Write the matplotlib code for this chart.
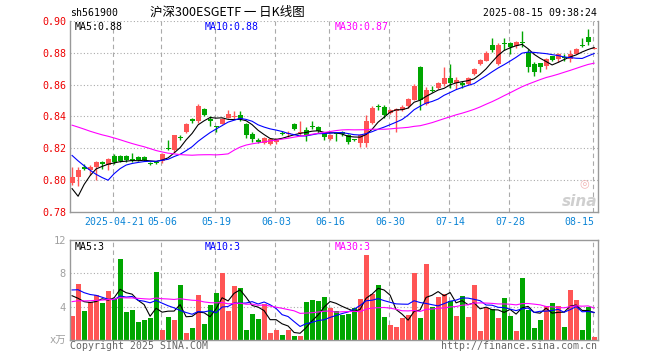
import numpy as np
import pandas as pd
import matplotlib
matplotlib.use("Agg")
import matplotlib.pyplot as plt

# ---------------- data ----------------
holidays = ["2025-05-01", "2025-05-02", "2025-05-05", "2025-06-02"]
dates = [d for d in pd.bdate_range("2025-04-10", "2025-08-15")
         if d.strftime("%Y-%m-%d") not in holidays]

opens = [0.798, 0.802, 0.808, 0.806, 0.808, 0.811, 0.809, 0.815, 0.815, 0.815,
         0.813, 0.8145, 0.8145, 0.8105, 0.8108, 0.8115, 0.820, 0.8185, 0.827, 0.830,
         0.8385, 0.837, 0.8448, 0.838, 0.8333, 0.835, 0.839, 0.8398, 0.841, 0.835,
         0.829, 0.8253, 0.8233, 0.8226, 0.8235, 0.8295, 0.829, 0.835, 0.8295, 0.8315,
         0.8333, 0.8333, 0.8296, 0.8255, 0.829, 0.830, 0.8285, 0.8255, 0.8233, 0.823,
         0.836, 0.8463, 0.846, 0.842, 0.8435, 0.8437, 0.8465, 0.8505, 0.871, 0.848,
         0.8562, 0.8575, 0.8606, 0.8644, 0.8612, 0.861, 0.8606, 0.8665, 0.8727, 0.875,
         0.885, 0.873, 0.886, 0.886, 0.884, 0.8862, 0.8805, 0.8726, 0.8733, 0.8715,
         0.8777, 0.8762, 0.8775, 0.8762, 0.8794, 0.885, 0.8897, 0.8825]
highs = [0.808, 0.808, 0.810, 0.809, 0.812, 0.812, 0.814, 0.816, 0.8155, 0.8155,
         0.817, 0.815, 0.815, 0.811, 0.8115, 0.8168, 0.825, 0.8285, 0.828, 0.8355,
         0.839, 0.8475, 0.845, 0.840, 0.834, 0.839, 0.844, 0.843, 0.8435, 0.836,
         0.830, 0.826, 0.827, 0.8262, 0.826, 0.8305, 0.8305, 0.8355, 0.837, 0.833,
         0.837, 0.834, 0.830, 0.829, 0.8296, 0.8305, 0.829, 0.8258, 0.829, 0.8405,
         0.8465, 0.848, 0.847, 0.8445, 0.8455, 0.847, 0.8515, 0.8605, 0.8715, 0.8585,
         0.859, 0.8615, 0.871, 0.873, 0.865, 0.862, 0.865, 0.8705, 0.876, 0.881,
         0.889, 0.886, 0.889, 0.8865, 0.8875, 0.8935, 0.8825, 0.874, 0.8735, 0.877,
         0.878, 0.880, 0.879, 0.8815, 0.883, 0.889, 0.895, 0.8835]
lows = [0.797, 0.796, 0.806, 0.803, 0.800, 0.807, 0.806, 0.810, 0.811, 0.811,
        0.811, 0.812, 0.812, 0.809, 0.810, 0.8108, 0.8185, 0.8175, 0.825, 0.8295,
        0.836, 0.836, 0.840, 0.834, 0.830, 0.835, 0.839, 0.838, 0.837, 0.8265,
        0.8235, 0.823, 0.8225, 0.822, 0.8225, 0.828, 0.827, 0.8315, 0.8285, 0.8245,
        0.832, 0.8295, 0.8248, 0.825, 0.8246, 0.8275, 0.8225, 0.8245, 0.8208, 0.8205,
        0.835, 0.844, 0.839, 0.8415, 0.830, 0.843, 0.8455, 0.850, 0.844, 0.847,
        0.8555, 0.857, 0.859, 0.8575, 0.857, 0.8575, 0.860, 0.866, 0.872, 0.8745,
        0.8805, 0.872, 0.8815, 0.8795, 0.883, 0.8835, 0.868, 0.8655, 0.868, 0.870,
        0.8745, 0.874, 0.875, 0.874, 0.879, 0.8835, 0.8848, 0.8823]
closes = [0.802, 0.806, 0.807, 0.808, 0.811, 0.810, 0.813, 0.811, 0.812, 0.8125,
          0.812, 0.8125, 0.8125, 0.810, 0.8105, 0.8165, 0.8195, 0.828, 0.8265, 0.835,
          0.837, 0.8465, 0.8406, 0.837, 0.833, 0.838, 0.8415, 0.840, 0.838, 0.8285,
          0.8255, 0.8238, 0.8265, 0.8257, 0.8255, 0.829, 0.8295, 0.832, 0.830, 0.8285,
          0.833, 0.8307, 0.827, 0.8285, 0.8287, 0.829, 0.8235, 0.825, 0.8279, 0.837,
          0.8455, 0.846, 0.8405, 0.8437, 0.8445, 0.846, 0.851, 0.859, 0.850, 0.8565,
          0.856, 0.861, 0.8644, 0.861, 0.8627, 0.8597, 0.8644, 0.870, 0.8752, 0.880,
          0.8815, 0.885, 0.8855, 0.8835, 0.8865, 0.886, 0.871, 0.868, 0.8712, 0.8762,
          0.8752, 0.879, 0.877, 0.8794, 0.8825, 0.8845, 0.8868, 0.8832]
volumes = [2.83, 6.74, 3.5, 4.6, 5.4, 4.5, 5.9, 4.9, 9.7, 3.4,
           3.6, 2.2, 2.35, 2.7, 8.2, 1.25, 2.8, 2.4, 6.6, 0.9,
           1.5, 5.4, 1.95, 4.2, 5.7, 8.1, 3.5, 6.5, 6.3, 1.25,
           3.15, 2.55, 4.35, 0.9, 1.25, 0.65, 1.25, 0.45, 0.45, 4.6,
           4.8, 4.7, 5.2, 3.8, 3.5, 3.0, 3.15, 3.8, 4.9, 10.2,
           5.5, 6.6, 2.8, 1.8, 1.6, 2.7, 3.0, 8.05, 2.7, 9.1,
           4.0, 5.2, 5.5, 4.7, 2.9, 5.3, 2.8, 6.6, 1.1, 3.9,
           3.75, 2.7, 5.1, 2.9, 1.1, 7.5, 3.6, 1.5, 2.4, 4.1,
           4.5, 4.1, 1.6, 6.0, 4.8, 1.25, 4.0, 0.4]

# sessions before the first visible candle (only feed the moving averages)
prior_closes = [0.842, 0.845, 0.848, 0.846, 0.843, 0.840, 0.843, 0.846, 0.849, 0.847,
                0.844, 0.842, 0.845, 0.847, 0.843, 0.843, 0.841, 0.840, 0.842, 0.842,
                0.840, 0.838, 0.836, 0.837, 0.830, 0.830, 0.770, 0.780, 0.790]
prior_volumes = [3.5, 4.2, 3.8, 4.0, 3.6, 3.9, 4.1, 3.7, 4.3, 3.8,
                 3.6, 4.0, 3.9, 4.2, 3.7, 3.9, 4.1, 3.8, 4.0, 3.9,
                 6.5, 7.0, 6.8, 6.4, 6.8, 8.3, 5.5, 5.1, 4.83]

tick_dates = ["2025-04-21", "2025-05-06", "2025-05-19", "2025-06-03", "2025-06-16",
              "2025-06-30", "2025-07-14", "2025-07-28", "2025-08-15"]
tick_labels = ["2025-04-21", "05-06", "05-19", "06-03", "06-16",
               "06-30", "07-14", "07-28", "08-15"]
price_ticks = [0.78, 0.80, 0.82, 0.84, 0.86, 0.88, 0.90]
vol_ticks = [0, 4, 8, 12]
vol_tick_labels = ["x万", "4", "8", "12"]

code = "sh561900"
title = "沪深300ESGETF 一 日K线图"
stamp = "2025-08-15 09:38:24"

# ---------------- computations ----------------
n = len(closes)
x = np.arange(n)
o = np.array(opens); h = np.array(highs); l = np.array(lows); c = np.array(closes)
v = np.array(volumes)
allc = pd.Series(prior_closes + closes)
allv = pd.Series(prior_volumes + volumes)
ma = {k: allc.rolling(k).mean().to_numpy()[-n:] for k in (5, 10, 30)}
vma = {k: allv.rolling(k).mean().to_numpy()[-n:] for k in (5, 10, 30)}
date_str = [d.strftime("%Y-%m-%d") for d in dates]
tick_idx = [date_str.index(d) for d in tick_dates]

RED = "#ff5555"
GREEN = "#00a600"
GRID = "#aaaaaa"
MONO = ["DejaVu Sans Mono", "Noto Sans CJK SC"]
up = c >= o
colors = np.where(up, RED, GREEN)

W, H = 660, 360
fig = plt.figure(figsize=(6.6, 3.6), dpi=100)
fig.patch.set_facecolor("white")

L, R = 70, 598
ax = fig.add_axes([L / W, 1 - 211.5 / H, (R - L) / W, 190.5 / H])
axv = fig.add_axes([L / W, 1 - 340 / H, (R - L) / W, 100 / H])

xlim = (-0.35, n - 1 + 0.65)

# ---- price panel ----
ax.set_xlim(*xlim)
ax.set_ylim(price_ticks[0], price_ticks[-1])
for yv in price_ticks[1:]:
    ax.axhline(yv, color=GRID, lw=0.8, ls=(0, (1, 2)), zorder=0)
for ti in tick_idx:
    ax.axvline(ti - 0.25, color=GRID, lw=0.8, ls=(0, (4, 3)), zorder=0)
ax.vlines(x, l, h, colors=colors, lw=1.0, zorder=2)
body_low = np.minimum(o, c)
body_h = np.maximum(np.abs(c - o), 0.0006)
ax.bar(x, body_h, bottom=body_low, width=0.84, color=colors, lw=0, zorder=3)
ax.plot(x, ma[5], color="black", lw=0.8, zorder=4)
ax.plot(x, ma[10], color="#0000ff", lw=0.8, zorder=4)
ax.plot(x, ma[30], color="#ff00ff", lw=0.8, zorder=4)

ax.set_yticks(price_ticks)
ax.set_yticklabels([f"{t:.2f}" for t in price_ticks], color="#ee0000",
                   fontfamily=MONO, fontsize=7.2)
ax.set_xticks(tick_idx)
ax.set_xticklabels(tick_labels, color="#0a84d6", fontfamily=MONO, fontsize=7.1)
ax.get_xticklabels()[-1].set_horizontalalignment("right")
ax.tick_params(axis="both", length=0)
ax.tick_params(axis="y", pad=2.5)
ax.tick_params(axis="x", pad=4)
for s in ("left", "right", "bottom"):
    ax.spines[s].set_color("#999999")
    ax.spines[s].set_linewidth(1.0)
ax.spines["top"].set_visible(False)

ax.text(5 / (R - L), 1 - 5.5 / 190.5, f"MA5:{ma[5][-1]:.2f}", transform=ax.transAxes,
        color="black", fontfamily=MONO, fontsize=7.1, va="center", ha="left")
ax.text(135 / (R - L), 1 - 5.5 / 190.5, f"MA10:{ma[10][-1]:.2f}", transform=ax.transAxes,
        color="#0000ff", fontfamily=MONO, fontsize=7.1, va="center", ha="left")
ax.text(265 / (R - L), 1 - 5.5 / 190.5, f"MA30:{ma[30][-1]:.2f}", transform=ax.transAxes,
        color="#ff00ff", fontfamily=MONO, fontsize=7.1, va="center", ha="left")

# sina watermark
ax.text(1 - 14 / (R - L), 28 / 190.5, "◎", transform=ax.transAxes, color="#f2b4b4",
        fontsize=8, ha="center", va="center", zorder=1)
ax.text(1 - 18 / (R - L), 10 / 190.5, "sina", transform=ax.transAxes, color="#cfcfcf",
        fontsize=11, fontweight="bold", fontstyle="italic", ha="center", va="center",
        zorder=1)

# ---- volume panel ----
axv.set_xlim(*xlim)
axv.set_ylim(vol_ticks[0], vol_ticks[-1])
for yv in vol_ticks[1:-1]:
    axv.axhline(yv, color=GRID, lw=0.8, ls=(0, (1, 2)), zorder=0)
for ti in tick_idx:
    axv.axvline(ti - 0.25, color=GRID, lw=0.8, ls=(0, (4, 3)), zorder=0)
axv.bar(x, v, width=0.85, color=colors, lw=0, zorder=2)
axv.plot(x, vma[5], color="black", lw=0.8, zorder=3)
axv.plot(x, vma[10], color="#0000ff", lw=0.8, zorder=3)
axv.plot(x, vma[30], color="#ff00ff", lw=0.8, zorder=3)
axv.set_yticks(vol_ticks)
axv.set_yticklabels(vol_tick_labels, color="#a0a0a0", fontfamily=MONO, fontsize=7.5)
axv.set_xticks([])
axv.tick_params(axis="both", length=0)
axv.tick_params(axis="y", pad=3)
for s in axv.spines.values():
    s.set_color("#999999")
    s.set_linewidth(1.0)

axv.text(5 / (R - L), 1 - 6.5 / 100, f"MA5:{int(vma[5][-1])}", transform=axv.transAxes,
         color="black", fontfamily=MONO, fontsize=7.1, va="center", ha="left")
axv.text(135 / (R - L), 1 - 6.5 / 100, f"MA10:{int(vma[10][-1])}", transform=axv.transAxes,
         color="#0000ff", fontfamily=MONO, fontsize=7.1, va="center", ha="left")
axv.text(265 / (R - L), 1 - 6.5 / 100, f"MA30:{int(vma[30][-1])}", transform=axv.transAxes,
         color="#ff00ff", fontfamily=MONO, fontsize=7.1, va="center", ha="left")

# ---- header / footer ----
fig.text(70 / W, 1 - 13.5 / H, code, color="black", fontfamily=MONO, fontsize=7.1,
         va="center", ha="left")
fig.text(150 / W, 1 - 12 / H, title, color="black",
         fontfamily=["Noto Sans CJK SC", "DejaVu Sans"], fontsize=9,
         va="center", ha="left")
fig.text(597 / W, 1 - 13.5 / H, stamp, color="black", fontfamily=MONO, fontsize=7.1,
         va="center", ha="right")
fig.text(70 / W, 1 - 346 / H, "Copyright 2025 SINA.COM", color="#666666",
         fontfamily=MONO, fontsize=7.1, va="center", ha="left")
fig.text(597 / W, 1 - 346 / H, "http://finance.sina.com.cn", color="#666666",
         fontfamily=MONO, fontsize=7.1, va="center", ha="right")

fig.savefig("out.png", dpi=100, facecolor="white")
